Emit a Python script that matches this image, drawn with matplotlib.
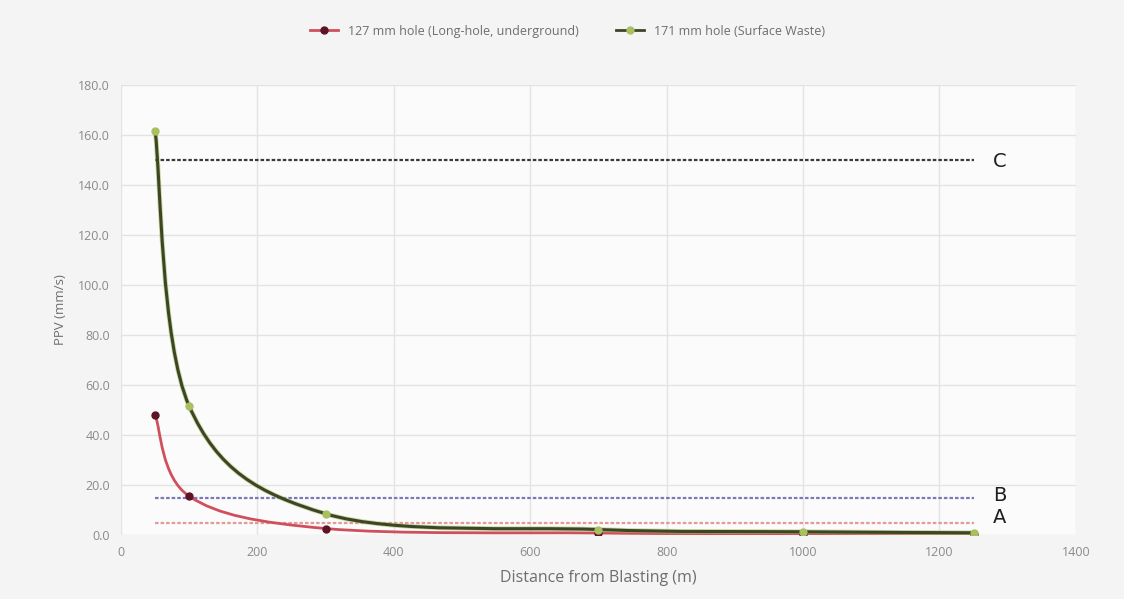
import numpy as np
import matplotlib
matplotlib.use("Agg")
import matplotlib.pyplot as plt
from matplotlib.path import Path
from matplotlib.patches import PathPatch
from matplotlib.lines import Line2D

plt.rcParams.update({
    "font.family": ["Open Sans", "DejaVu Sans"],
    "font.size": 9,
})

DIST = [50, 100, 300, 700, 1000, 1250]
PPV_127 = [48.0, 15.5, 2.6, 0.8, 0.5, 0.35]
PPV_171 = [161.5, 51.5, 8.5, 2.2, 1.3, 0.9]
LIMITS = [("C", 150.0, "#3a3a3a"), ("B", 15.0, "#7a78b8"), ("A", 5.0, "#e59a9a")]
LIMIT_X = [50, 1250]
LABEL_Y = {"C": 149.5, "B": 16.0, "A": 7.0}

C_RED = "#cf4f5c"
C_RED_M = "#5c1426"
C_GRN = "#3c4526"
C_GRN_M = "#a8c060"


def smooth_path(xs, ys):
    # Excel-style smoothed line: Catmull-Rom segments as cubic Beziers
    p = np.column_stack([xs, ys]).astype(float)
    ext = np.vstack([p[0], p, p[-1]])
    verts = [p[0]]
    codes = [Path.MOVETO]
    for i in range(1, len(ext) - 2):
        p0, p1, p2, p3 = ext[i - 1], ext[i], ext[i + 1], ext[i + 2]
        c1 = p1 + (p2 - p0) / 6.0
        c2 = p2 - (p3 - p1) / 6.0
        verts += [c1, c2, p2]
        codes += [Path.CURVE4] * 3
    return Path(verts, codes)


fig = plt.figure(figsize=(11.24, 5.99), dpi=100, facecolor="#f4f4f4")
ax = fig.add_axes([0.1077, 0.1068, 0.8495, 0.7513], facecolor="#fbfbfb")

for name, val, col in LIMITS:
    ax.plot(LIMIT_X, [val, val], color=col, lw=1.6, ls=(0, (1.6, 0.9)), zorder=2)
    ax.text(1288, LABEL_Y[name], name, fontsize=14, color="#1e1e1e",
            ha="center", va="center", family=["DejaVu Sans"])

ax.add_patch(PathPatch(smooth_path(DIST, PPV_127), fill=False,
                       edgecolor=C_RED, lw=2.0, zorder=3))
ax.plot(DIST, PPV_127, ls="none", marker="o", ms=5, color=C_RED_M, zorder=4)

ax.add_patch(PathPatch(smooth_path(DIST, PPV_171), fill=False,
                       edgecolor=C_GRN_M, lw=3.4, alpha=0.6, zorder=3))
ax.add_patch(PathPatch(smooth_path(DIST, PPV_171), fill=False,
                       edgecolor=C_GRN, lw=2.2, zorder=3))
ax.plot(DIST, PPV_171, ls="none", marker="o", ms=5, color=C_GRN_M, zorder=4)

ax.set_xlim(0, 1400)
ax.set_ylim(0, 180)
ax.set_xticks(range(0, 1401, 200))
ax.set_yticks(range(0, 181, 20))
ax.set_yticklabels([f"{v:.1f}" for v in range(0, 181, 20)])
ax.grid(color="#e3e3e3", lw=1.0)
ax.set_axisbelow(True)
for s in ax.spines.values():
    s.set_visible(False)
ax.tick_params(length=0, colors="#8a8a8a", labelsize=9, pad=8)

ax.set_xlabel("Distance from Blasting (m)", fontsize=11.5, color="#6e6e6e", labelpad=8)
ax.set_ylabel("PPV (mm/s)", fontsize=9.5, color="#6e6e6e", labelpad=8)

handles = [
    Line2D([], [], color=C_RED, lw=2, marker="o", ms=5, mfc=C_RED_M, mec=C_RED_M),
    Line2D([], [], color=C_GRN, lw=2, marker="o", ms=5, mfc=C_GRN_M, mec=C_GRN_M),
]
fig.legend(handles, ["127 mm hole (Long-hole, underground)",
                     "171 mm hole (Surface Waste)"],
           loc="center", bbox_to_anchor=(0.505, 0.948), ncol=2, frameon=False,
           fontsize=9, labelcolor="#6e6e6e", handlelength=2.2, columnspacing=3)

fig.savefig("out.png", dpi=100, facecolor=fig.get_facecolor())
